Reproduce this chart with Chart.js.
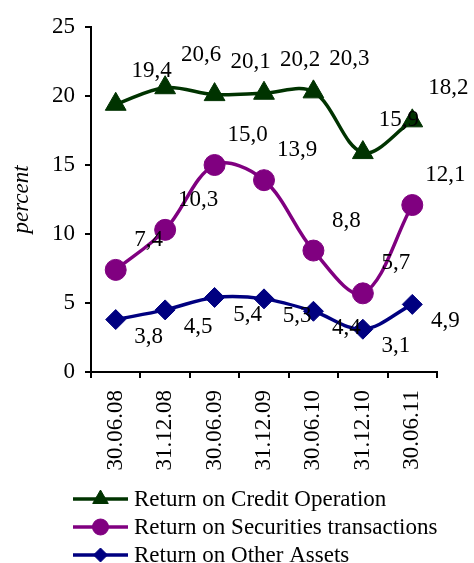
<!DOCTYPE html>
<html>
<head>
<meta charset="utf-8">
<script src="https://cdn.jsdelivr.net/npm/chart.js@4.4.1/dist/chart.umd.min.js"></script>
<style>
  html, body { margin: 0; padding: 0; background: #fff; }
</style>
</head>
<body>
<canvas id="returnsChart" width="474" height="563"></canvas>
<script>
const periods = ['30.06.08', '31.12.08', '30.06.09', '31.12.09', '30.06.10', '31.12.10', '30.06.11'];
const creditReturn = [19.4, 20.6, 20.1, 20.2, 20.3, 15.9, 18.2];
const securitiesReturn = [7.4, 10.3, 15.0, 13.9, 8.8, 5.7, 12.1];
const otherAssetsReturn = [3.8, 4.5, 5.4, 5.3, 4.4, 3.1, 4.9];
const yMin = 0;
const yMax = 25;
const yStep = 5;

const FONT = 'Liberation Serif, "Times New Roman", serif';
const green = '#003300';
const purple = '#800080';
const navy = '#000080';

const fmt = v => v.toFixed(1).replace('.', ',');

// value labels sit up/down-right of each marker, like the original
const valueLabels = {
  id: 'valueLabels',
  afterDatasetsDraw(chart) {
    const ctx = chart.ctx;
    ctx.save();
    ctx.font = '23px ' + FONT;
    ctx.fillStyle = '#000';
    ctx.textAlign = 'center';
    ctx.textBaseline = 'middle';
    chart.data.datasets.forEach((ds, i) => {
      const meta = chart.getDatasetMeta(i);
      const [dx, dy] = ds.labelOffset;
      meta.data.forEach((pt, j) => {
        ctx.fillText(fmt(ds.data[j]), pt.x + dx, pt.y + dy);
      });
    });
    ctx.restore();
  },
};

// legend drawn as line + marker rows, stacked under the axis
const lineLegend = {
  id: 'lineLegend',
  afterDraw(chart) {
    const ctx = chart.ctx;
    const x0 = 73, x1 = 128, textX = 134, top = 499, gap = 28;
    ctx.save();
    chart.data.datasets.forEach((ds, i) => {
      const y = top + i * gap;
      ctx.strokeStyle = ds.borderColor;
      ctx.lineWidth = 3.5;
      ctx.beginPath();
      ctx.moveTo(x0, y);
      ctx.lineTo(x1, y);
      ctx.stroke();
      ctx.fillStyle = ds.borderColor;
      ctx.lineWidth = 1;
      Chart.helpers.drawPoint(ctx, {
        pointStyle: ds.pointStyle,
        radius: ds.legendRadius,
        rotation: 0,
        borderWidth: 1,
      }, (x0 + x1) / 2, y);
      ctx.fillStyle = '#000';
      ctx.font = '23px ' + FONT;
      ctx.textAlign = 'left';
      ctx.textBaseline = 'middle';
      ctx.fillText(ds.label, textX, y + 1);
    });
    ctx.restore();
  },
};

const ctx = document.getElementById('returnsChart').getContext('2d');
new Chart(ctx, {
  type: 'line',
  data: {
    labels: periods,
    datasets: [{
      label: 'Return on Credit Operation',
      data: creditReturn,
      borderColor: green,
      backgroundColor: green,
      pointStyle: 'triangle',
      pointRadius: 12,
      legendRadius: 9,
      labelOffset: [36, -33],
    }, {
      label: 'Return on Securities transactions',
      data: securitiesReturn,
      borderColor: purple,
      backgroundColor: purple,
      pointStyle: 'circle',
      pointRadius: 10.5,
      legendRadius: 8,
      labelOffset: [33, -30],
    }, {
      label: 'Return on Other Assets',
      data: otherAssetsReturn,
      borderColor: navy,
      backgroundColor: navy,
      pointStyle: 'rectRot',
      pointRadius: 10,
      legendRadius: 7,
      labelOffset: [33, 17],
    }],
  },
  options: {
    responsive: false,
    animation: false,
    layout: { padding: { left: 4, right: 37, top: 27, bottom: 85 } },
    elements: {
      line: { borderWidth: 3.5, tension: 0.35, fill: false },
      point: { borderWidth: 1, hoverRadius: 10 },
    },
    plugins: {
      legend: { display: false },
      tooltip: { enabled: false },
    },
    scales: {
      x: {
        offset: true,
        afterFit(scale) { scale.height = 106; },
        grid: {
          offset: true,
          drawOnChartArea: false,
          drawTicks: true,
          tickLength: 6,
          color: '#000',
          lineWidth: 2,
        },
        border: { color: '#000', width: 2 },
        ticks: {
          color: '#000',
          font: { family: FONT, size: 23 },
          minRotation: 90,
          maxRotation: 90,
          padding: 12,
          autoSkip: false,
        },
      },
      y: {
        min: yMin,
        max: yMax,
        afterFit(scale) { scale.width = 87; },
        grid: {
          drawOnChartArea: false,
          drawTicks: true,
          tickLength: 6,
          color: '#000',
          lineWidth: 2,
        },
        border: { color: '#000', width: 2 },
        ticks: {
          stepSize: yStep,
          color: '#000',
          font: { family: FONT, size: 23 },
          padding: 10,
        },
        title: {
          display: true,
          text: 'percent',
          color: '#000',
          font: { family: FONT, size: 23, style: 'italic' },
          padding: { top: 4, bottom: 0 },
        },
      },
    },
  },
  plugins: [valueLabels, lineLegend],
});
</script>
</body>
</html>
